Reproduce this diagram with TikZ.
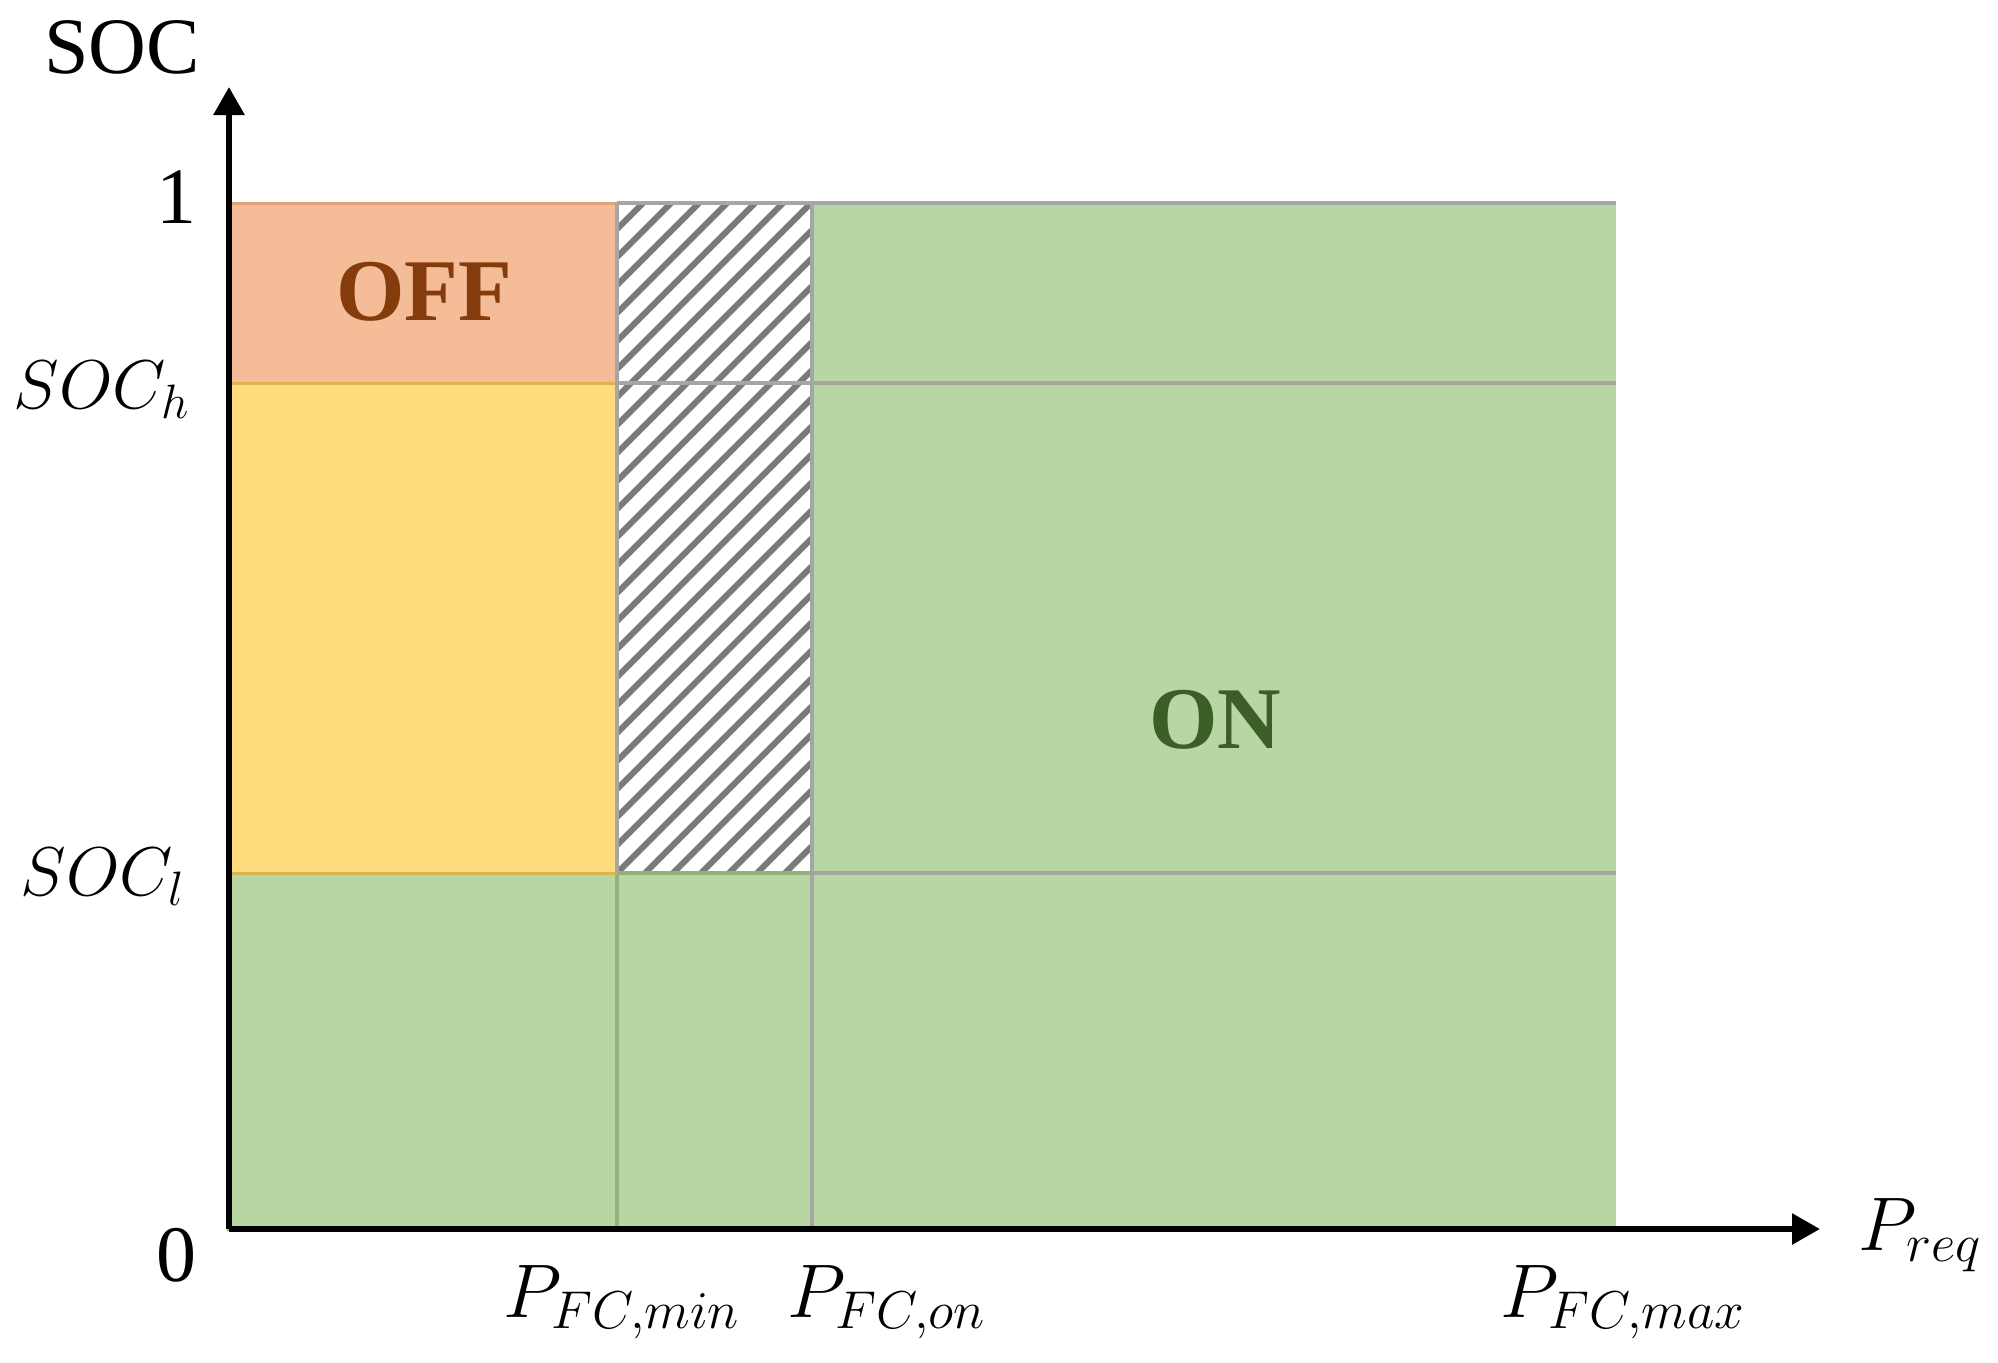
\documentclass[tikz,border=0pt]{standalone}
\usepackage{fix-cm}
\usepackage{fontspec}
\setmainfont{Liberation Serif}
\usetikzlibrary{arrows.meta}
\definecolor{offfill}{HTML}{F5BC98}
\definecolor{offedge}{HTML}{E3A27A}
\definecolor{yellowfill}{HTML}{FFDD7E}
\definecolor{yellowedge}{HTML}{D9B54E}
\definecolor{greenfill}{HTML}{B7D6A3}
\definecolor{greenedge}{HTML}{8FB37A}
\definecolor{gridgray}{HTML}{A6A6A6}
\definecolor{hatchgray}{HTML}{7A7A7A}
\definecolor{offtext}{HTML}{843C0C}
\definecolor{ontext}{HTML}{3B5E26}
\begin{document}
\begin{tikzpicture}[x=1pt,y=-1pt,
  gridline/.style={draw=gridgray, line width=4.5pt},
  greenline/.style={draw=greenedge, line width=4pt},
  axisline/.style={line width=6pt, -{Triangle[length=28pt,width=30pt]}},
  lab/.style={inner sep=0pt, font=\fontsize{80}{96}\selectfont},
  mlab/.style={inner sep=0pt, font=\fontsize{76}{90}\selectfont},
  ylab/.style={inner sep=0pt, font=\fontsize{69}{84}\selectfont},
  statelab/.style={inner sep=0pt, font=\fontsize{88}{100}\selectfont\bfseries}]
\useasboundingbox (0,0) rectangle (1998,1363);
\coordinate (O) at (229,1229);
\coordinate (ytip) at (229,87);
\coordinate (xtip) at (1820,1229);
% green regions
\fill[greenfill] (812,203) rectangle (1616,1229);
\fill[greenfill] (229,873) rectangle (812,1229);
\draw[greenline] (229,873) rectangle (812,1229);
\draw[greenline] (617,873) -- (617,1229);
% OFF and yellow
\filldraw[fill=offfill, draw=offedge, line width=3pt] (229,203) rectangle (617,383);
\filldraw[fill=yellowfill, draw=yellowedge, line width=3pt] (229,383) rectangle (617,873);
% hatched region
\fill[white] (617,203) rectangle (812,873);
\begin{scope}
  \clip (617,203) rectangle (812,873);
  \foreach \k in {0,...,36}
    \draw[hatchgray, line width=6pt] ({617-700+28*\k},873) -- ++(700,-700);
\end{scope}
% grid lines
\draw[gridline] (617,203) -- (1616,203);
\draw[gridline] (617,383) -- (1616,383);
\draw[gridline] (812,873) -- (1616,873);
\draw[gridline] (617,203) -- (617,873);
\draw[gridline] (812,203) -- (812,1229);
\draw[greenline] (617,873) -- (812,873);
% axes
\draw[axisline] (O) -- (ytip);
\draw[axisline] (O) -- (xtip);
% labels
\node[lab] (soc) at (122,47) {SOC};
\node[lab] (one) at (176,197) {1};
\node[ylab, anchor=base east] (soch) at (189,408) {$SOC_h$};
\node[ylab, anchor=base east] (socl) at (184,895) {$SOC_l$};
\node[lab] (zero) at (176,1255) {0};
\node[mlab, anchor=base west] (pmin) at (503,1317) {$P_{FC,min}$};
\node[mlab, anchor=base west] (pon) at (787,1317) {$P_{FC,on}$};
\node[mlab, anchor=base west] (pmax) at (1500,1317) {$P_{FC,max}$};
\node[mlab, anchor=base west] (preq) at (1858,1250) {$P_{req}$};
\node[statelab, text=offtext] (off) at (424,292) {OFF};
\node[statelab, text=ontext] (on) at (1215,720) {ON};
\end{tikzpicture}
\end{document}
